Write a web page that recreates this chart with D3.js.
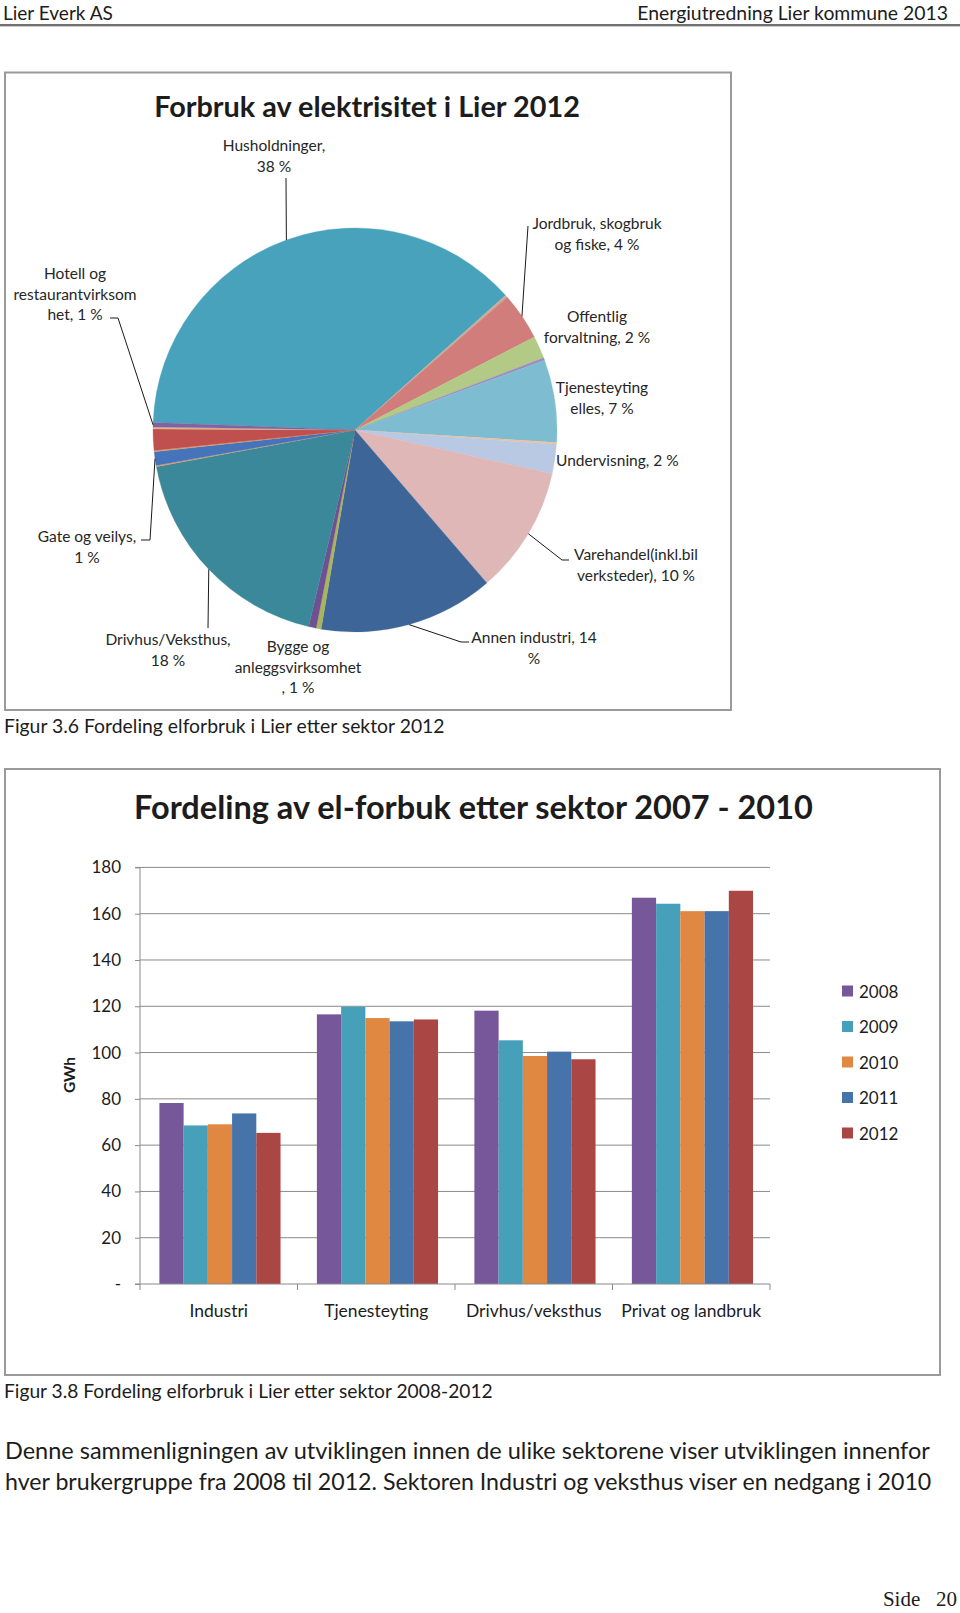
<!DOCTYPE html>
<html><head><meta charset="utf-8">
<script src="https://cdn.jsdelivr.net/npm/d3@7"></script>
<style>
body{margin:0;background:#fff;}
svg{display:block;}
text{font-family:Lato,'Noto Sans',sans-serif;fill:#1c1c1c;}
</style>
</head><body>
<svg id="c" width="960" height="1613"></svg>
<script>
// ---------- DATA ----------
const pieCategories = ["Husholdninger","Øvrig a","Jordbruk, skogbruk og fiske","Offentlig forvaltning","Øvrig b",
  "Tjenesteyting elles","Øvrig c","Undervisning","Varehandel(inkl.bil verksteder)","Annen industri","Øvrig d",
  "Bygge og anleggsvirksomhet","Drivhus/Veksthus","Øvrig e","Gate og veilys","Øvrig f","Øvrig g","Øvrig h",
  "Hotell og restaurantvirksomhet"];
const pieValues = [37.8,0.2,3.8,1.8,0.2,6.6,0.15,2.35,10.2,14.0,0.4,0.6,18.4,0.1,1.1,0.1,1.7,0.15,0.35];
const pieColors = ["#48a2bb","#c9ab98","#d17d7b","#b2ca86","#9d8bc0","#7ebcd2","#f0c096","#b9c8e3","#e0b7b7",
  "#3d6598","#a9b55e","#6e5192","#3a8899","#d9a169","#4674ba","#d9a169","#c0504d","#e2b58a","#8064a2"];
const pieLabelLines = {
  "Husholdninger": ["Husholdninger,","38 %"],
  "Jordbruk, skogbruk og fiske": ["Jordbruk, skogbruk","og fiske, 4 %"],
  "Offentlig forvaltning": ["Offentlig","forvaltning, 2 %"],
  "Tjenesteyting elles": ["Tjenesteyting","elles, 7 %"],
  "Undervisning": ["Undervisning, 2 %"],
  "Varehandel(inkl.bil verksteder)": ["Varehandel(inkl.bil","verksteder), 10 %"],
  "Annen industri": ["Annen industri, 14","%"],
  "Bygge og anleggsvirksomhet": ["Bygge og","anleggsvirksomhet",", 1 %"],
  "Drivhus/Veksthus": ["Drivhus/Veksthus,","18 %"],
  "Gate og veilys": ["Gate og veilys,","1 %"],
  "Hotell og restaurantvirksomhet": ["Hotell og","restaurantvirksom","het, 1 %"]
};

const barCategories = ["Industri","Tjenesteyting","Drivhus/veksthus","Privat og landbruk"];
const barYears = ["2008","2009","2010","2011","2012"];
const v2008 = [78.2,116.5,118.1,166.9];
const v2009 = [68.5,119.8,105.3,164.3];
const v2010 = [69.0,114.9,98.5,161.1];
const v2011 = [73.7,113.5,100.4,161.1];
const v2012 = [65.3,114.3,97.1,169.9];
const barSeries = [v2008,v2009,v2010,v2011,v2012];
const barColors = ["#76589a","#46a0b9","#e08741","#4673aa","#aa4644"];
const yTickValues = [0,20,40,60,80,100,120,140,160,180];
const yTickLabels = ["-","20","40","60","80","100","120","140","160","180"];

// ---------- HELPERS ----------
const svg = d3.select("#c");
function fit(t, w){
  const L = t.node().getComputedTextLength();
  const fs = parseFloat(t.attr("font-size"));
  t.attr("font-size", fs*w/L);
  return t;
}
function txt(x,y,s,fs,opts={}){
  const t = svg.append("text").attr("x",x).attr("y",y).attr("font-size",fs)
    .attr("dominant-baseline","central").text(s);
  if(opts.anchor) t.attr("text-anchor",opts.anchor);
  if(opts.weight) t.attr("font-weight",opts.weight);
  if(opts.family) t.style("font-family",opts.family);
  if(opts.width) fit(t,opts.width);
  return t;
}

// ---------- PAGE HEADER ----------
txt(3,12,"Lier Everk AS",18,{width:110});
txt(948,12,"Energiutredning Lier kommune 2013",18,{anchor:"end",width:311});
svg.append("line").attr("x1",0).attr("x2",960).attr("y1",25).attr("y2",25)
  .attr("stroke","#707070").attr("stroke-width",2);
svg.append("line").attr("x1",0).attr("x2",960).attr("y1",26.5).attr("y2",26.5)
  .attr("stroke","#c8c8c8").attr("stroke-width",1);

// ---------- PIE CHART ----------
svg.append("rect").attr("x",5).attr("y",72.5).attr("width",726).attr("height",637.5)
  .attr("fill","#fff").attr("stroke","#9a9a9a").attr("stroke-width",2);
txt(367,106,"Forbruk av elektrisitet i Lier 2012",26,{anchor:"middle",weight:"bold",width:426});

const pcx = 355, pcy = 430, pr = 202;
const pieData = pieCategories.map((c,i)=>({cat:c,value:pieValues[i],color:pieColors[i]}));
const pie = d3.pie().value(d=>d.value).sort(null)
  .startAngle(-87.9*Math.PI/180).endAngle(-87.9*Math.PI/180 + 2*Math.PI);
const arcs = pie(pieData);
const arc = d3.arc().innerRadius(0).outerRadius(pr);
const edge = d3.arc().innerRadius(pr).outerRadius(pr);
const gp = svg.append("g").attr("transform",`translate(${pcx},${pcy})`);
gp.selectAll("path").data(arcs).join("path")
  .attr("d",arc).attr("fill",d=>d.data.color)
  .attr("stroke",d=>d.data.color).attr("stroke-width",0.3);

// label layout (page coordinates): first-line centre, anchor, leader end points on label side
const labelLayout = {
  "Husholdninger": {x:274,y:145,anchor:"middle",leader:[[286,178]]},
  "Jordbruk, skogbruk og fiske": {x:597,y:223,anchor:"middle",leader:[[528,226]]},
  "Offentlig forvaltning": {x:597,y:316,anchor:"middle"},
  "Tjenesteyting elles": {x:602,y:387,anchor:"middle"},
  "Undervisning": {x:556,y:460,anchor:"start"},
  "Varehandel(inkl.bil verksteder)": {x:636,y:554,anchor:"middle",leader:[[562,560],[569,560]]},
  "Annen industri": {x:534,y:637,anchor:"middle",leader:[[461,642],[469,642]]},
  "Bygge og anleggsvirksomhet": {x:298,y:646,anchor:"middle"},
  "Drivhus/Veksthus": {x:168,y:639,anchor:"middle",leader:[[208,628]]},
  "Gate og veilys": {x:87,y:536,anchor:"middle",leader:[[150,540],[141,540]]},
  "Hotell og restaurantvirksomhet": {x:75,y:273,anchor:"middle",leader:[[118,318],[110,318]]}
};
arcs.forEach(a=>{
  const lines = pieLabelLines[a.data.cat];
  if(!lines) return;
  const L = labelLayout[a.data.cat];
  lines.forEach((s,i)=>{
    svg.append("text").attr("x",L.x).attr("y",L.y+i*20.5).attr("text-anchor",L.anchor)
      .attr("dominant-baseline","central").attr("font-size",15.5).style("fill","#262626").text(s);
  });
  if(L.leader){
    const c = edge.centroid(a);
    const pts = [[pcx+c[0],pcy+c[1]]].concat(L.leader);
    svg.append("path").attr("d",d3.line()(pts)).attr("fill","none")
      .attr("stroke","#1a1a1a").attr("stroke-width",1);
  }
});
txt(4,725,"Figur 3.6 Fordeling elforbruk i Lier etter sektor 2012",17,{width:441});

// ---------- BAR CHART ----------
svg.append("rect").attr("x",5).attr("y",769).attr("width",935).attr("height",606)
  .attr("fill","#fff").attr("stroke","#9a9a9a").attr("stroke-width",2);
txt(473.5,806,"Fordeling av el-forbuk etter sektor 2007 - 2010",32,{anchor:"middle",weight:"bold",width:679});

const px0 = 140, px1 = 770, py0 = 1284, py1 = 867.4;
const x0 = d3.scaleBand().domain(barCategories).range([px0,px1]).padding(0);
const bw = x0.bandwidth()/6.5;
const x1 = d3.scaleBand().domain(barYears).range([0.8*bw, x0.bandwidth()-0.7*bw]).padding(0);
const y = d3.scaleLinear().domain([0,180]).range([py0,py1]);

// gridlines
svg.append("g").selectAll("line").data(yTickValues.slice(1)).join("line")
  .attr("x1",px0).attr("x2",px1).attr("y1",d=>y(d)).attr("y2",d=>y(d))
  .attr("stroke","#8a8a8a").attr("stroke-width",1);

// bars
const gb = svg.append("g");
barSeries.forEach((ser,si)=>{
  gb.append("g").selectAll("rect").data(ser).join("rect")
    .attr("x",(d,i)=>x0(barCategories[i])+x1(barYears[si]))
    .attr("width",x1.bandwidth())
    .attr("y",d=>y(d)).attr("height",d=>y(0)-y(d))
    .attr("fill",barColors[si]);
});

// y axis
const yAxis = d3.axisLeft(y).tickValues(yTickValues).tickSize(5).tickPadding(14)
  .tickFormat((d,i)=>yTickLabels[i]);
const gy = svg.append("g").attr("transform",`translate(${px0},0)`).call(yAxis);
gy.select(".domain").attr("stroke","#8a8a8a").attr("d",`M-5,${py1}H0V${py0}H-5`);
gy.selectAll(".tick line").attr("stroke","#8a8a8a");
gy.selectAll(".tick text").attr("font-size",17).style("font-family","Lato,'Noto Sans',sans-serif").style("fill","#1c1c1c");

// x axis
const gx = svg.append("g").attr("transform",`translate(0,${py0})`);
gx.append("line").attr("x1",px0).attr("x2",px1).attr("y1",0).attr("y2",0).attr("stroke","#8a8a8a");
const bounds = barCategories.map(c=>x0(c)).concat([px1]);
gx.selectAll("line.t").data(bounds).join("line").attr("class","t")
  .attr("x1",d=>d).attr("x2",d=>d).attr("y1",0).attr("y2",6).attr("stroke","#8a8a8a");
barCategories.forEach(c=>{
  txt(x0(c)+x0.bandwidth()/2, 1310, c, 17.5, {anchor:"middle"});
});

// y title
svg.append("text").attr("transform","translate(69,1075) rotate(-90)")
  .attr("text-anchor","middle").attr("dominant-baseline","central")
  .attr("font-size",15.5).attr("font-weight","bold").text("GWh");

// legend
barYears.forEach((yr,i)=>{
  const cy = 991 + i*35.5;
  svg.append("rect").attr("x",842).attr("y",cy-5.5).attr("width",11).attr("height",11).attr("fill",barColors[i]);
  txt(859,cy,yr,17);
});

txt(4,1390,"Figur 3.8 Fordeling elforbruk i Lier etter sektor 2008-2012",17,{width:489});

// ---------- BODY TEXT ----------
txt(5,1450,"Denne sammenligningen av utviklingen innen de ulike sektorene viser utviklingen innenfor",22,{width:925});
txt(5,1481,"hver brukergruppe fra 2008 til 2012. Sektoren Industri og veksthus viser en nedgang i 2010",22,{width:927});
svg.append("text").attr("x",957).attr("y",1599).attr("text-anchor","end")
  .attr("dominant-baseline","central").attr("font-size",21)
  .style("font-family","'Liberation Serif','DejaVu Serif',serif").text("Side\u2002 20");
</script>
</body></html>
